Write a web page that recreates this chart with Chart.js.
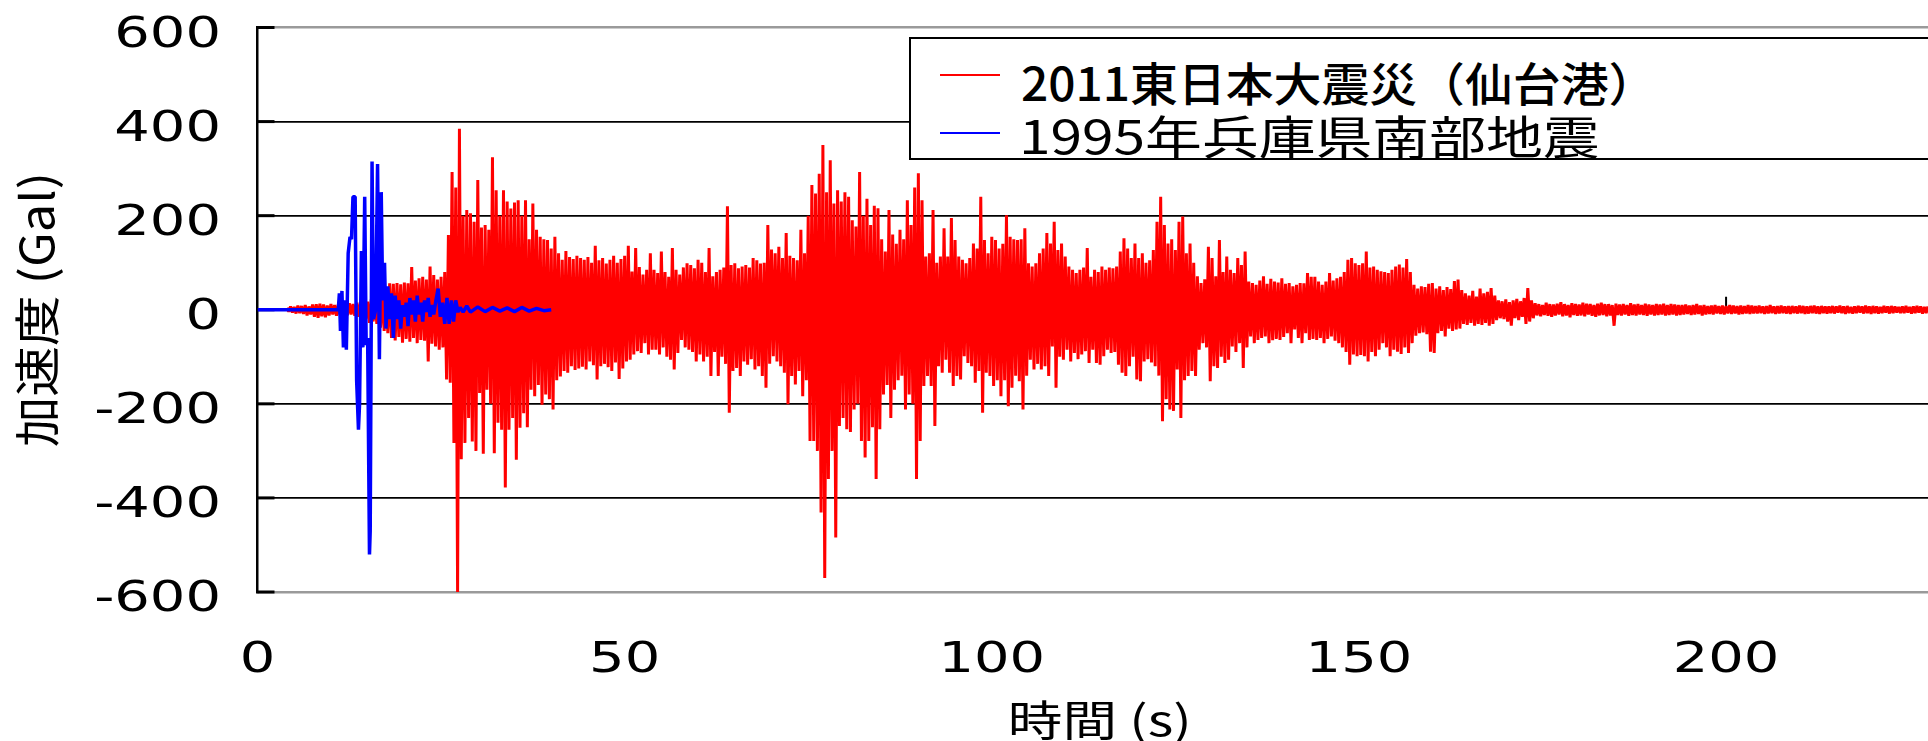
<!DOCTYPE html>
<html lang="ja">
<head>
<meta charset="utf-8">
<title>加速度波形</title>
<script src="https://cdn.jsdelivr.net/npm/chart.js@4.4.1/dist/chart.umd.min.js"></script>
<style>
  html, body { margin: 0; padding: 0; background: #fff; }
  #wrap { position: relative; width: 1928px; height: 741px; overflow: hidden; }
  #legend {
    position: absolute; left: 909px; top: 37px; width: 1100px; height: 123px;
    box-sizing: border-box; border: 2px solid #000; background: #fff;
    font-family: "Noto Sans CJK JP", sans-serif; color: #000;
  }
  #legend .swatch { position: absolute; left: 29px; width: 60px; height: 2.5px; }
  #legend .name { position: absolute; white-space: nowrap; transform-origin: left center; }
</style>
</head>
<body>
<div id="wrap">
  <canvas id="chart" width="1928" height="741"></canvas>
  <div id="legend"></div>
</div>
<script>
// 系列名と色
const seriesNames = ["2011東日本大震災（仙台港）", "1995年兵庫県南部地震"];
const seriesColors = ["#ff0000", "#0000ff"];

// 目盛り
const xTicks = [0, 50, 100, 150, 200];
const yTicks = [-600, -400, -200, 0, 200, 400, 600];

// 2011 仙台港：0.5秒ごとの正側・負側ピーク (Gal)、4.0秒から
const redStart = 4.0;
const redStep = 0.5;
const redUpper = [
  4,7,6,9,8,10,7,11,12,13,11,9,12,10,11,13,12,14,12,15,
  16,18,17,22,28,30,35,38,56,55,57,54,58,56,91,62,67,70,64,92,
  74,64,70,80,159,293,260,385,200,212,205,187,276,175,180,170,324,254,200,254,
  230,215,228,233,200,233,150,226,170,155,150,148,130,155,120,106,125,112,108,115,
  110,106,112,100,136,105,110,98,106,115,100,108,115,136,81,131,91,75,85,120,
  85,78,124,80,70,131,85,75,90,99,95,88,106,100,80,131,71,80,85,90,
  220,95,99,88,92,95,90,110,105,98,100,180,128,120,134,110,163,115,110,105,
  170,120,200,265,247,289,350,250,318,226,254,230,250,240,190,177,293,200,236,180,
  221,216,150,124,212,160,140,170,150,233,180,260,290,233,113,120,212,100,113,173,
  113,195,148,113,106,99,110,141,130,240,148,120,155,148,130,140,201,155,150,148,
  150,173,99,92,99,120,130,163,141,187,127,141,113,92,85,78,85,90,131,70,
  85,80,92,85,90,88,92,124,152,130,110,141,110,120,100,105,127,187,240,180,
  141,150,127,187,198,120,141,100,71,57,65,134,110,71,148,80,113,85,78,110,
  95,124,60,57,53,62,71,55,66,60,58,67,55,57,50,53,57,56,78,70,
  70,60,53,60,78,62,67,70,80,106,110,99,95,99,124,90,92,85,82,80,
  78,85,92,96,90,108,80,53,45,50,48,55,57,45,50,42,48,44,61,64,
  42,35,30,40,28,45,35,38,46,30,20,18,22,16,20,23,18,25,46,20,
  14,12,10,15,12,11,13,16,12,10,14,12,11,15,13,12,10,13,15,12,
  12,10,13,11,12,10,14,11,12,10,13,11,10,12,11,13,10,12,11,10,
  10,11,9,10,12,9,10,8,9,10,8,9,8,10,9,8,9,8,10,9,
  8,9,7,8,10,7,8,9,7,8,8,7,9,8,7,8,9,7,8,7,
  7,8,7,9,7,8,6,7,8,7,9,7,8,7,6,8,7,8,7,6,
  7,8,6,7,8,7,6,7
];
const redLower = [
  -4,-6,-8,-7,-9,-12,-10,-15,-17,-14,-16,-12,-10,-13,-11,-14,-12,-10,-13,-15,
  -18,-20,-28,-25,-30,-38,-45,-50,-60,-65,-58,-70,-62,-68,-60,-71,-64,-66,-110,-72,
  -78,-85,-80,-148,-155,-283,-600,-318,-283,-230,-280,-300,-177,-306,-170,-200,-305,-240,-255,-378,
  -255,-230,-319,-251,-220,-250,-170,-184,-160,-202,-180,-190,-212,-150,-142,-130,-134,-120,-128,-125,
  -121,-127,-110,-118,-148,-120,-115,-122,-130,-112,-147,-125,-110,-106,-95,-88,-92,-71,-95,-85,
  -85,-95,-80,-100,-106,-127,-92,-64,-80,-85,-90,-110,-95,-110,-100,-141,-90,-141,-100,-115,
  -219,-130,-124,-141,-110,-117,-105,-127,-120,-141,-166,-115,-99,-110,-120,-134,-201,-141,-159,-130,
  -184,-150,-279,-279,-300,-431,-570,-360,-300,-484,-247,-230,-254,-260,-212,-200,-279,-314,-279,-250,
  -360,-254,-180,-160,-230,-170,-150,-140,-212,-180,-200,-360,-279,-162,-141,-162,-247,-120,-134,-106,
  -134,-162,-141,-148,-99,-113,-120,-155,-130,-219,-134,-141,-162,-150,-184,-150,-205,-166,-140,-152,
  -212,-140,-106,-127,-115,-127,-120,-141,-78,-166,-100,-106,-85,-110,-92,-105,-95,-88,-113,-85,
  -113,-117,-99,-85,-92,-90,-117,-134,-141,-120,-100,-148,-152,-110,-105,-112,-120,-140,-237,-190,
  -212,-215,-127,-230,-150,-141,-130,-141,-85,-71,-80,-152,-120,-124,-100,-113,-106,-78,-90,-71,
  -124,-80,-57,-71,-64,-60,-57,-71,-65,-62,-64,-58,-50,-71,-42,-60,-71,-50,-64,-62,
  -64,-60,-71,-62,-57,-66,-71,-80,-90,-117,-95,-99,-96,-99,-110,-90,-99,-85,-71,-80,
  -99,-85,-89,-94,-80,-92,-71,-55,-50,-48,-52,-89,-92,-50,-45,-57,-40,-45,-42,-40,
  -30,-32,-28,-34,-30,-32,-28,-34,-30,-22,-18,-20,-25,-34,-18,-22,-15,-30,-25,-18,
  -12,-14,-11,-13,-15,-12,-10,-14,-12,-16,-11,-13,-12,-14,-10,-13,-15,-12,-11,-14,
  -12,-34,-11,-12,-10,-13,-11,-12,-10,-11,-13,-10,-12,-11,-10,-12,-11,-10,-12,-11,
  -10,-9,-11,-10,-9,-12,-10,-9,-10,-8,-9,-10,-8,-9,-8,-10,-9,-8,-9,-8,
  -8,-7,-9,-8,-7,-9,-8,-7,-8,-9,-7,-8,-7,-9,-8,-7,-8,-9,-7,-8,
  -7,-8,-6,-7,-9,-7,-8,-7,-6,-8,-7,-9,-7,-8,-7,-6,-8,-7,-6,-7,
  -7,-6,-8,-7,-6,-8,-7,-6
];

// 1995 兵庫県南部地震：時刻 (s) と加速度 (Gal)
const blueTime = [
  0, 11.0, 11.15, 11.3, 11.5, 11.7, 11.9, 12.1, 12.35, 12.6, 12.8, 13.0, 13.3, 13.5, 13.75, 13.9,
  14.15, 14.35, 14.6, 14.8, 15.0, 15.25, 15.35, 15.6, 15.8, 16.1, 16.35, 16.6, 16.85, 17.05, 17.3, 17.5,
  17.75, 18.0, 18.25, 18.5, 18.75, 19.0, 19.25, 19.5, 19.75, 20.0, 20.25, 20.5, 20.75, 21.0, 21.25, 21.5,
  21.75, 22.0, 22.25, 22.5, 22.75, 23.0, 23.25, 23.5, 23.75, 24.0, 24.3, 24.6, 24.9, 25.2, 25.5, 25.8,
  26.1, 26.4, 26.7, 27.0, 27.3, 27.6, 28.0, 28.5, 29, 30, 31, 32, 33, 34, 35, 36, 37, 38, 39, 40
];
const blueAccel = [
  0, 0, 35, -45, 40, -80, 20, -85, 120, 155, 150, 240, 240, -150, -255, -200,
  125, -80, 240, -75, -60, -520, -470, 315, -20, 0, 310, -105, 250, 20, 100, -40,
  50, -20, 35, -60, 30, -20, 20, -40, 10, -15, 15, -35, 25, -10, 20, -25,
  30, -10, 15, -25, 20, -5, 25, -15, 10, -10, 20, 45, -15, 15, -30, 25,
  -30, 20, -25, 20, -5, 5, -5, 8, -5, 6, -4, 5, -3, 4, -4, 5, -3, 3, -2, 0
];

// 折れ線用の点を作る（正側ピーク→負側ピークを交互に）
const redPoints = [];
redUpper.forEach(function (v, i) {
  const t = redStart + i * redStep;
  redPoints.push({ x: t, y: v });
  redPoints.push({ x: t + redStep / 2, y: redLower[i] });
});
const bluePoints = blueTime.map(function (t, i) {
  return { x: t, y: blueAccel[i] };
});

// 横に広い文字を描く
function wideText(ctx, text, x, y, sx, align) {
  ctx.save();
  ctx.translate(x, y);
  ctx.scale(sx, 1);
  ctx.textAlign = align;
  ctx.fillText(text, 0, 0);
  ctx.restore();
}

// 目盛りラベル・軸タイトル・内向きの目盛り線
const axisPlugin = {
  id: "axisText",
  beforeDatasetsDraw(chart) {
    const ctx = chart.ctx;
    const xs = chart.scales.x;
    const ys = chart.scales.y;
    const left = chart.chartArea.left;
    ctx.save();
    ctx.strokeStyle = "#000";
    ctx.lineWidth = 3;
    yTicks.forEach(function (v) {
      const y = ys.getPixelForValue(v);
      ctx.beginPath();
      ctx.moveTo(left, y);
      ctx.lineTo(left + 17, y);
      ctx.stroke();
    });
    ctx.lineWidth = 2;
    const y0 = ys.getPixelForValue(0);
    xTicks.slice(1).forEach(function (v) {
      const x = xs.getPixelForValue(v);
      ctx.beginPath();
      ctx.moveTo(x, y0);
      ctx.lineTo(x, y0 - 13);
      ctx.stroke();
    });
    ctx.restore();
  },
  afterDraw(chart) {
    const ctx = chart.ctx;
    const xs = chart.scales.x;
    const ys = chart.scales.y;
    ctx.save();
    ctx.fillStyle = "#000";
    ctx.textBaseline = "alphabetic";
    ctx.font = '43px "DejaVu Sans"';
    yTicks.forEach(function (v) {
      wideText(ctx, String(v), 221, ys.getPixelForValue(v) + 19, 1.3, "right");
    });
    xTicks.forEach(function (v) {
      wideText(ctx, String(v), xs.getPixelForValue(v), 672, 1.3, "center");
    });

    ctx.font = '42px "Noto Sans CJK JP"';
    ctx.textBaseline = "middle";
    wideText(ctx, "時間 (s)", (xs.left + xs.right) / 2 + 7, 720, 1.3, "center");

    ctx.font = '46px "Noto Sans CJK JP"';
    ctx.save();
    ctx.translate(37, (ys.top + ys.bottom) / 2);
    ctx.rotate(-Math.PI / 2);
    ctx.scale(1.1, 1);
    ctx.textAlign = "center";
    ctx.fillText("加速度 (Gal)", 0, 0);
    ctx.restore();
    ctx.restore();
  },
};

const chart = new Chart(document.getElementById("chart"), {
  type: "line",
  data: {
    datasets: [
      {
        label: seriesNames[0],
        data: redPoints,
        borderColor: seriesColors[0],
        borderWidth: 3,
        borderJoinStyle: "bevel",
        pointRadius: 0,
        order: 2,
      },
      {
        label: seriesNames[1],
        data: bluePoints,
        borderColor: seriesColors[1],
        borderWidth: 3.5,
        borderJoinStyle: "bevel",
        pointRadius: 0,
        order: 1,
      },
    ],
  },
  options: {
    responsive: false,
    animation: false,
    parsing: false,
    layout: { padding: { top: 27.5, left: 0, right: 0, bottom: 0 } },
    plugins: { legend: { display: false }, tooltip: { enabled: false } },
    scales: {
      x: {
        type: "linear",
        min: 0,
        max: 227.5,
        ticks: { display: false, stepSize: 50 },
        grid: { display: false },
        border: { display: false },
        afterFit: function (s) { s.height = 149; },
      },
      y: {
        min: -600,
        max: 600,
        ticks: { display: false, stepSize: 200 },
        grid: {
          drawTicks: false,
          color: function (c) { return Math.abs(c.tick.value) === 600 ? "#9a9a9a" : "#000"; },
          lineWidth: function (c) { return Math.abs(c.tick.value) === 600 ? 2.5 : 1.8; },
        },
        border: { color: "#000", width: 2.5 },
        afterFit: function (s) { s.width = 257.5; },
      },
    },
  },
  plugins: [axisPlugin],
});

// 凡例（枠付き、右端は切れる）
const legendEl = document.getElementById("legend");
const rows = [
  { lineTop: 34.75, textLeft: 110, textTop: 19, size: 46, sx: 1.04, weight: 500 },
  { lineTop: 92.75, textLeft: 108, textTop: 72, size: 46, sx: 1.235, weight: 400 },
];
seriesNames.forEach(function (name, i) {
  const sw = document.createElement("div");
  sw.className = "swatch";
  sw.style.top = rows[i].lineTop + "px";
  sw.style.background = seriesColors[i];
  legendEl.appendChild(sw);
  const tx = document.createElement("div");
  tx.className = "name";
  tx.textContent = name;
  tx.style.left = rows[i].textLeft + "px";
  tx.style.top = rows[i].textTop + "px";
  tx.style.fontSize = rows[i].size + "px";
  tx.style.lineHeight = rows[i].size + "px";
  tx.style.fontWeight = rows[i].weight;
  tx.style.transform = "scaleX(" + rows[i].sx + ")";
  legendEl.appendChild(tx);
});
</script>
</body>
</html>
